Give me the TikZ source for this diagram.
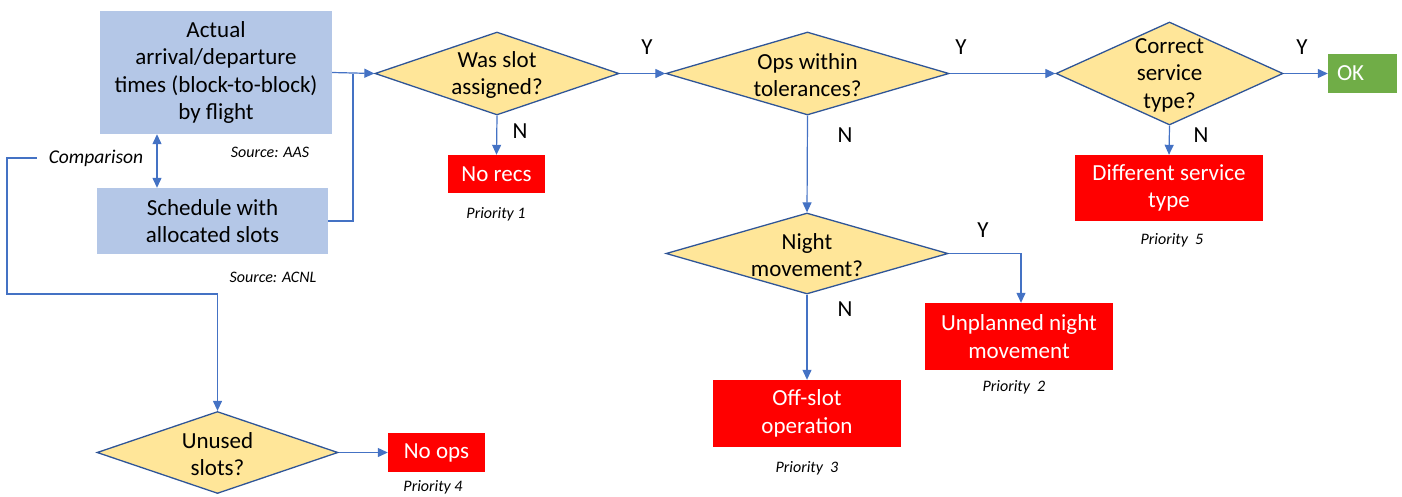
\documentclass[tikz,border=0pt]{standalone}
\usepackage{fontspec}
\setmainfont{Carlito}
\usetikzlibrary{shapes.geometric,arrows.meta}
\definecolor{boxblue}{HTML}{B4C7E7}
\definecolor{dfill}{HTML}{FFE699}
\definecolor{dline}{HTML}{2F5597}
\definecolor{conn}{HTML}{4472C4}
\definecolor{redbox}{HTML}{FF0000}
\definecolor{greenbox}{HTML}{70AD47}
\begin{document}
\begin{tikzpicture}[x=1pt,y=-1pt,
  main/.style={font=\fontsize{23}{27.5}\selectfont},
  bluebox/.style={main,fill=boxblue,align=center,inner sep=0pt},
  redb/.style={main,fill=redbox,text=white,align=center,inner sep=0pt},
  dia/.style={diamond,draw=dline,line width=1.3pt,fill=dfill,inner sep=0pt},
  dtext/.style={main,align=center,inner sep=0pt,yshift=-1.5pt},
  yn/.style={main,inner sep=0pt},
  prio/.style={font=\fontsize{16}{19}\selectfont\itshape,inner sep=0pt},
  src/.style={font=\fontsize{16}{19}\selectfont\itshape,inner sep=0pt},
  line/.style={draw=conn,line width=1.2pt},
  arr/.style={line,-{Triangle[length=10pt,width=9pt]}},
  darr/.style={line,{Triangle[length=10pt,width=9pt]}-{Triangle[length=10pt,width=9pt]}}
]
\useasboundingbox (0,0) rectangle (1402,496);

% source boxes
\node[bluebox,minimum width=232pt,minimum height=123pt] (a) at (216,72.5) {Actual\\arrival/departure\\times (block-to-block)\\by flight};
\node[bluebox,minimum width=231pt,minimum height=66pt] (s) at (212.5,221) {Schedule with\\allocated slots};
\node[src] (srcaas) at (270,152) {Source: AAS};
\node[src] (srcacnl) at (273,277) {Source: ACNL};
\node[font=\fontsize{19.5}{23}\selectfont\itshape,inner sep=0pt] (comp) at (96,158) {Comparison};

% diamonds
\node[dia,minimum width=244pt,minimum height=83pt] (d1) at (497,73.5) {};
\node[dtext] at (d1) {Was slot\\assigned?};
\node[dia,minimum width=283pt,minimum height=83pt] (d2) at (807.5,73.5) {};
\node[dtext] at (d2) {Ops within\\tolerances?};
\node[dia,minimum width=227pt,minimum height=103pt] (d3) at (1169.5,73.5) {};
\node[dtext] at (d3) {Correct\\service\\type?};
\node[dia,minimum width=282pt,minimum height=81pt] (d4) at (807,253.5) {};
\node[dtext] at (d4) {Night\\movement?};
\node[dia,minimum width=241pt,minimum height=82pt] (du) at (217.5,452.5) {};
\node[dtext] at (du) {Unused\\slots?};

% outcome boxes
\node[redb,minimum width=97pt,minimum height=38pt] (norecs) at (496.5,174) {No recs};
\node[redb,minimum width=188pt,minimum height=66pt] (diff) at (1169,188) {Different service\\type};
\node[redb,minimum width=188pt,minimum height=67pt] (unpl) at (1019,336.5) {Unplanned night\\movement};
\node[redb,minimum width=188pt,minimum height=67pt] (offslot) at (807,413.5) {Off-slot\\operation};
\node[redb,minimum width=97pt,minimum height=39pt] (noops) at (436.5,452.5) {No ops};
\node[main,fill=greenbox,text=white,minimum width=69pt,minimum height=39pt,inner sep=0pt,text width=53pt,align=left] (ok) at (1362.5,73.5) {\hspace*{1pt}OK};

% priorities
\node[prio] (p1) at (496,214) {Priority 1};
\node[prio] (p5) at (1172,240) {Priority\ \ 5};
\node[prio] (p2) at (1014,387) {Priority\ \ 2};
\node[prio] (p3) at (807,468) {Priority\ \ 3};
\node[prio] (p4) at (433,487) {Priority 4};

% Y/N labels
\node[yn] (y1) at (647,47) {Y};
\node[yn] (y2) at (961,47) {Y};
\node[yn] (y3) at (1302,47) {Y};
\node[yn] (y4) at (983,230) {Y};
\node[yn] (n1) at (520,131) {N};
\node[yn] (n2) at (845,135) {N};
\node[yn] (n3) at (1201,135) {N};
\node[yn] (n4) at (845,309) {N};

% connectors
\coordinate (j) at (353,0);
\coordinate (cx) at (157,0);
\coordinate (lx) at (7,0);
\coordinate (ly) at (0,294);
\coordinate (ny) at (1021,0);
\path[arr] (a.east) -- (d1.west);
\path[line] (s.east) -| (j |- d1.west);
\path[darr] (a.south -| cx) -- (s.north -| cx);
\path[arr] (comp.west) ++(-12,0) coordinate (cw) (cw) -- (lx |- cw) -- (lx |- ly) -- (du.north |- ly) -- (du.north);
\path[arr] (d1.east) -- (d2.west);
\path[arr] (d1.south) -- (norecs.north);
\path[arr] (d2.east) -- (d3.west);
\path[arr] (d3.east) -- (ok.west);
\path[arr] (d3.south) -- (diff.north);
\path[arr] (d2.south) -- (d4.north);
\path[arr] (d4.east) -| (unpl.north -| ny);
\path[arr] (d4.south) -- (offslot.north);
\path[arr] (du.east) -- (noops.west);
\end{tikzpicture}
\end{document}
